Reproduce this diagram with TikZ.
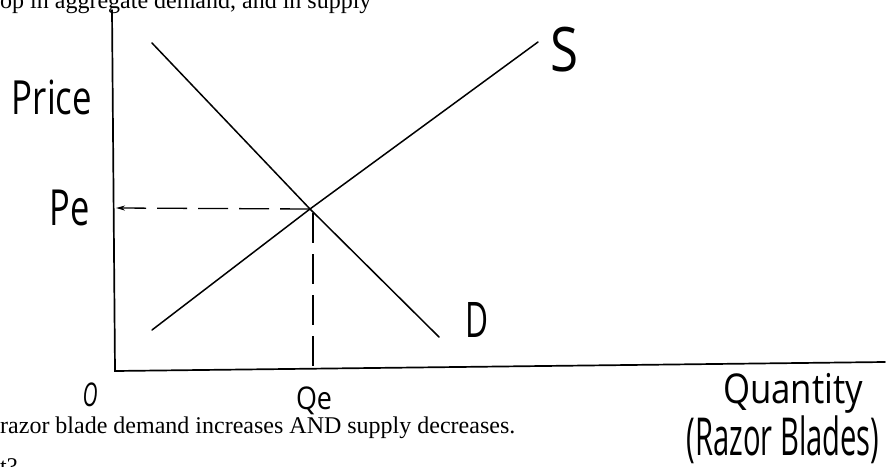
\documentclass[tikz,border=0pt]{standalone}
\usepackage{fontspec}
\usepackage{graphicx}
\setmainfont{Liberation Serif}
\newfontfamily\handfont{Open Sans}
\usetikzlibrary{arrows.meta}
\newcommand{\hwtext}[3]{\resizebox*{#1}{#2}{\handfont #3}}
\begin{document}
\begin{tikzpicture}[x=1pt,y=-1pt,
  hand/.style={inner sep=0pt},
  printed/.style={font=\fontsize{24}{27}\selectfont, inner sep=0pt, anchor=base west},
  axisline/.style={line width=1.7pt, line cap=round},
  curve/.style={line width=1.5pt, line cap=round},
  guide/.style={line width=1.3pt, dash pattern=on 30pt off 11pt}
]
\useasboundingbox (0,0) rectangle (894,466);
\clip (0,0) rectangle (894,466);
\fill[white] (0,0) rectangle (894,466);

% printed text (partly cut off)
\node[printed] (top) at (0,8) {op in aggregate demand, and in supply};
\node[printed] (mid) at (0,433) {razor blade demand increases AND supply decreases.};
\node[printed] (bot) at (0,474) {t?};

% axes
\coordinate (ytop) at (112,10);
\coordinate (o) at (115,371);
\coordinate (xend) at (885,362);
\draw[axisline] (ytop) -- (o) -- (xend);

% curves
\coordinate (d1) at (152,43);
\coordinate (e) at (310,209);
\coordinate (d2) at (439,337);
\coordinate (s1) at (152,330);
\coordinate (s2) at (538,42);
\draw[curve] (d1) -- (e) -- (d2);
\draw[curve] (s1) -- (e) -- (s2);

% guides
\coordinate (pe) at (116,208);
\coordinate (qe) at (313,371);
\draw[guide, -{Stealth[length=9pt,width=5pt]}] (e) -- (pe);
\draw[guide] (313,213) -- (qe);

% labels
\node[hand] (price) at (52,97) {\hwtext{80pt}{35pt}{Price}};
\node[hand] (pelab) at (70,208) {\hwtext{40pt}{36pt}{Pe}};
\node[hand] (slab) at (564,50) {\hwtext{28pt}{45pt}{S}};
\node[hand] (dlab) at (477,320) {\hwtext{23pt}{35pt}{D}};
\node[hand] (olab) at (90,395) {\hwtext{15pt}{24pt}{\itshape O}};
\node[hand] (qelab) at (314,401) {\hwtext{36pt}{28pt}{Qe}};
\node[hand] (qty) at (793,393) {\hwtext{140pt}{40pt}{Quantity}};
\node[hand] (rb) at (783,440) {\hwtext{193pt}{48pt}{(Razor Blades)}};
\end{tikzpicture}
\end{document}
